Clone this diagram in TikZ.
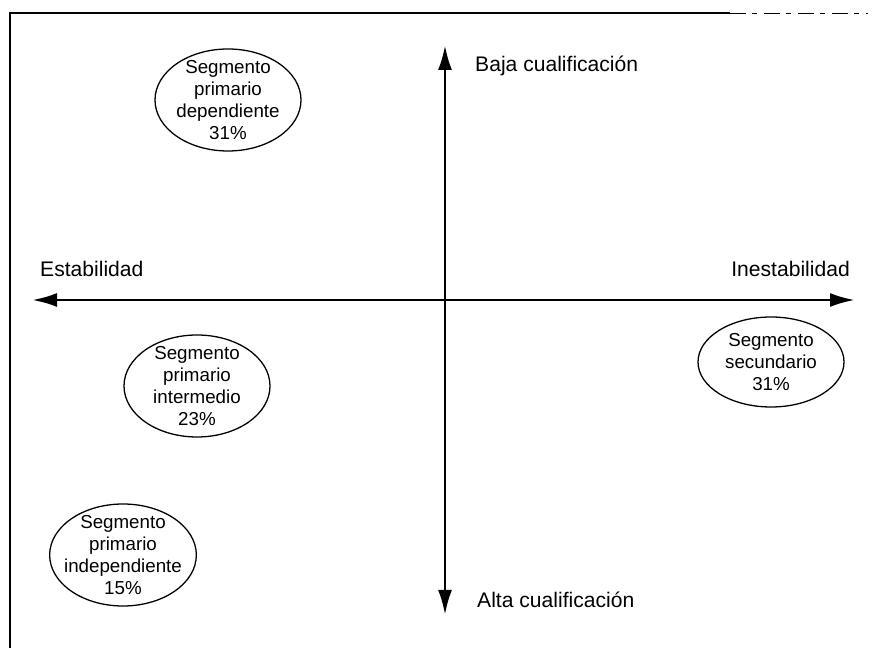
\documentclass[tikz,border=0pt]{standalone}
\usepackage{fontspec}
\setmainfont{Liberation Sans}
\usetikzlibrary{arrows.meta,shapes.geometric}
\begin{document}
\begin{tikzpicture}[x=0.03cm,y=0.03cm,
    eje/.style={line width=2.5pt,{Latex[length=0.75cm,width=0.42cm]}-{Latex[length=0.75cm,width=0.42cm]}},
    marco/.style={line width=1.6pt},
    segmento/.style={draw,ellipse,line width=1.1pt,inner sep=-6pt,minimum width=4.38cm,minimum height=3.06cm,align=center,font=\fontsize{16}{18.8}\selectfont},
    etiqueta/.style={inner sep=0pt,anchor=base west,font=\fontsize{18}{21}\selectfont}]
                \useasboundingbox (0,0) rectangle (875,648);
                \draw [marco] (10,0) -- (10,635) -- (730,635);
                \draw [marco,line width=0.8pt,dash pattern=on 14pt off 5pt on 4pt off 6pt] (730,635) -- (868,635);
                \coordinate (estab) at (32,348);
                \coordinate (inestab) at (855,348);
                \coordinate (baja) at (445,603);
                \coordinate (alta) at (445,33);
                \draw [eje] (estab) -- (inestab);
                \draw [eje] (alta) -- (baja);
                \node [etiqueta] (lbaja) at (475,576) {Baja cualificación};
                \node [etiqueta] (lalta) at (477,40) {Alta cualificación};
                \node [etiqueta] (lestab) at (40,371) {Estabilidad};
                \node [etiqueta,anchor=base east] (linestab) at (850,371) {Inestabilidad};
                \node [segmento] (dependiente) at (228,548) {Segmento\\primario\\dependiente\\31\%};
                \node [segmento] (intermedio) at (197,262) {Segmento\\primario\\intermedio\\23\%};
                \node [segmento] (independiente) at (123,93) {Segmento\\primario\\independiente\\15\%};
                \node [segmento,minimum height=2.7cm] (secundario) at (771,286) {Segmento\\secundario\\31\%};
            \end{tikzpicture}
\end{document}
